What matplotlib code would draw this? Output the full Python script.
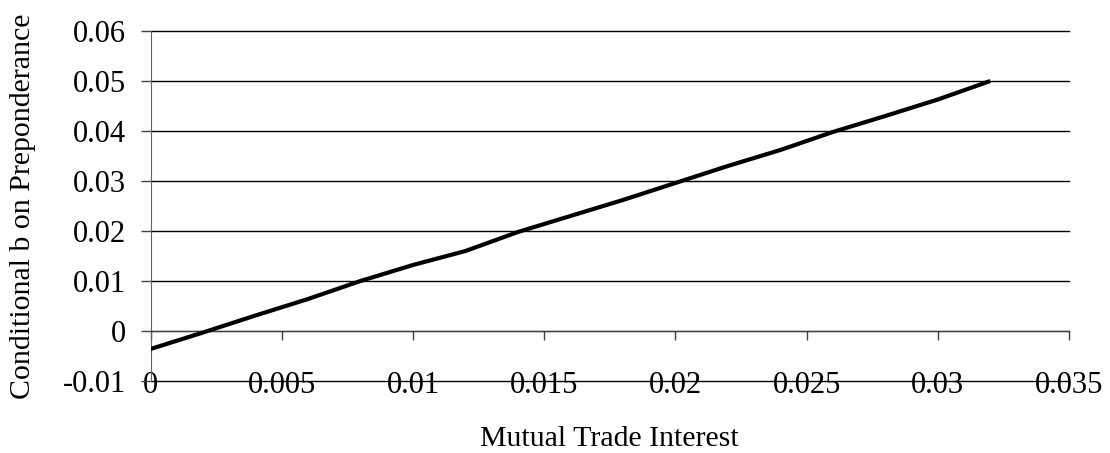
#!/usr/bin/env python3
"""
Conditional effect of preponderance across mutual trade interest
(Excel-style line chart recreated in matplotlib)
"""

import numpy as np
import matplotlib
matplotlib.use('Agg')
import matplotlib.pyplot as plt

# Data
trade_interest = [0.000, 0.002, 0.004, 0.006, 0.008, 0.010, 0.012, 0.014, 0.016,
                  0.018, 0.020, 0.022, 0.024, 0.026, 0.028, 0.030, 0.032]
conditional_b = [-0.0036, -0.0003, 0.0031, 0.0064, 0.0100, 0.0132, 0.0160, 0.0198,
                 0.0230, 0.0262, 0.0296, 0.0330, 0.0362, 0.0398, 0.0430, 0.0463,
                 0.0500]

x_ticks = [0, 0.005, 0.01, 0.015, 0.02, 0.025, 0.03, 0.035]
x_tick_labels = ['0', '0.005', '0.01', '0.015', '0.02', '0.025', '0.03', '0.035']
y_ticks = [-0.01, 0, 0.01, 0.02, 0.03, 0.04, 0.05, 0.06]
y_tick_labels = ['-0.01', '0', '0.01', '0.02', '0.03', '0.04', '0.05', '0.06']

plt.rcParams['font.family'] = ['Liberation Serif', 'DejaVu Serif']
plt.rcParams['font.size'] = 22


def main():
    fig = plt.figure(figsize=(11.1, 4.53), dpi=100)
    ax = fig.add_axes([0.1357, 0.159, 0.8274, 0.7726])

    ax.set_xlim(0, 0.035)
    ax.set_ylim(-0.01, 0.06)

    # horizontal gridlines, Excel style
    ax.set_yticks(y_ticks)
    ax.set_yticklabels(y_tick_labels)
    ax.yaxis.grid(True, color='black', linewidth=1.0)
    for gl in ax.get_ygridlines():
        gl.set_clip_on(False)
    ax.set_axisbelow(True)

    ax.set_xticks(x_ticks)
    ax.set_xticklabels(x_tick_labels)

    # category axis crosses at zero, labels sit down at the -0.01 line
    ax.spines['top'].set_visible(False)
    ax.spines['right'].set_visible(False)
    ax.spines['bottom'].set_position(('data', 0))
    ax.spines['bottom'].set_color('#404040')
    ax.spines['left'].set_color('#606060')

    ax.tick_params(axis='x', direction='out', length=6.5, width=1,
                   color='#404040', pad=22)
    ax.tick_params(axis='y', direction='out', length=7, width=1,
                   color='#404040', pad=11)

    ax.plot(trade_interest, conditional_b, color='black', linewidth=3,
            solid_capstyle='butt', zorder=3)

    ax.set_xlabel('Mutual Trade Interest', fontsize=21.5)
    ax.set_ylabel('Conditional b on Preponderance', fontsize=21.5)
    ax.xaxis.set_label_coords(0.5, -0.167)
    ax.xaxis.label.set_va('center')
    ax.yaxis.set_label_coords(-0.1394, 0.5)
    ax.yaxis.label.set_va('center')

    fig.savefig('out.png', dpi=100)
    plt.close(fig)


if __name__ == '__main__':
    main()
